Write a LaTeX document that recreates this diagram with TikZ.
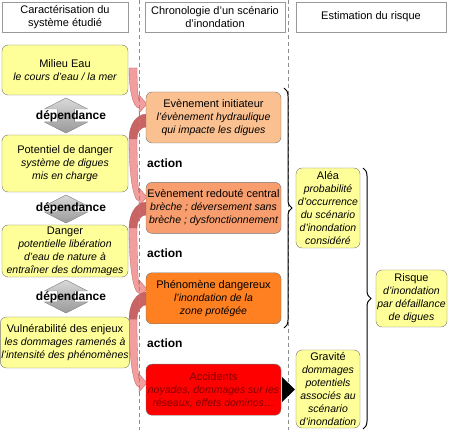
\documentclass[tikz,border=0pt]{standalone}
\usepackage{fontspec}
\setmainfont{Liberation Sans}
\usepackage{tikz}
\usetikzlibrary{positioning,decorations.pathreplacing,calc}

\definecolor{boxyellow}{RGB}{255,255,153}
\definecolor{initorange}{RGB}{250,192,144}
\definecolor{redoutorange}{RGB}{248,158,110}
\definecolor{phenorange}{RGB}{255,128,32}
\definecolor{accred}{RGB}{255,0,0}
\definecolor{acctext}{RGB}{128,0,0}
\definecolor{arrowback}{RGB}{200,100,100}
\definecolor{arrowfront}{RGB}{242,158,158}
\definecolor{arrowline}{RGB}{185,95,95}

\tikzstyle{header}=[draw=black!40, fill=white, align=center, inner sep=1pt, font=\fontsize{11}{13}\selectfont]
\tikzstyle{stage}=[draw=black!55, rounded corners=6pt, align=center, inner sep=1pt, font=\fontsize{11}{13}\selectfont]
\tikzstyle{divider}=[draw=black!45, dashed, dash pattern=on 4pt off 3pt]
\tikzset{
    yellowbox/.style={stage, fill=boxyellow},
    leftbox/.style={yellowbox, minimum width=126pt},
    midbox/.style={stage, minimum width=135pt, minimum height=51pt},
    bold label/.style={font=\bfseries\fontsize{12}{14}\selectfont, inner sep=0pt},
    back face/.style={fill=arrowback, draw=arrowline, line width=0.3pt},
    front face/.style={fill=arrowfront, draw=arrowline, line width=0.3pt},
    dep shape/.style={top color=black!15, bottom color=black!40, draw=black!40, line width=0.4pt},
    brace/.style={decorate, decoration={brace, amplitude=8pt}, line width=1pt}
}
% one italic line of a box
\newcommand{\detail}[1]{{\itshape\fontsize{10.5}{13}\selectfont #1}}
% front face of a curved arrow: #1 start height, #2 tip height
\newcommand{\frontarrow}[2]{%
  \filldraw[front face] (129,#1) .. controls (129,{#1+0.6*(#2-#1)}) and (133,{#2+4}) .. (139,{#2+4})
     -- (139,{#2+9}) -- (147,#2) -- (139,{#2-9}) -- (139,{#2-4})
     .. controls (138,{#2-4}) and (137,{#1+0.4*(#2-#1)}) .. (137,#1) -- cycle;}
% whole curved arrow: #1 top of the back face, #2 tip height
\newcommand{\flowarrow}[2]{%
  \pgfmathsetmacro\fm{#1+0.3*(#2-#1)}
  \pgfmathsetmacro\fa{#1+0.45*(\fm-#1)}
  \pgfmathsetmacro\fc{(#1+13)+0.45*(\fm-#1-13)}
  \filldraw[back face] (147,#1) .. controls (136,#1) and (129,\fa) .. (129,\fm)
     -- (137,\fm) .. controls (137,\fc) and (140,{#1+13}) .. (147,{#1+13}) -- cycle;
  \frontarrow{\fm}{#2}}
% grey double block arrow: #1 top, #2 bottom
\newcommand{\deparrow}[2]{%
  \filldraw[dep shape] (66,#1) -- (87.5,{#1+11}) -- (74.5,{#1+11}) -- (74.5,{#2-11}) -- (87.5,{#2-11})
     -- (66,#2) -- (44.5,{#2-11}) -- (57.5,{#2-11}) -- (57.5,{#1+11}) -- (44.5,{#1+11}) -- cycle;}

\begin{document}
\begin{tikzpicture}[x=1pt, y=-1pt]
  \useasboundingbox (0,0) rectangle (450,430);

  % curved arrows
  \frontarrow{68}{104}
  \flowarrow{114}{197}
  \flowarrow{202}{289}
  \flowarrow{292}{383}

  % column dividers
  \draw[divider] (139,0) -- (139,430);
  \draw[divider] (288,0) -- (288,430);

  % dependance arrows
  \deparrow{98}{133}
  \deparrow{195}{223}
  \deparrow{280}{313}

  % headers
  \node[header, minimum width=126pt, minimum height=30pt] (hcar) at (65,17) {Caractérisation du\\système étudié};
  \node[header, minimum width=140pt, minimum height=30pt] (hchr) at (215,17) {Chronologie d’un scénario\\d’inondation};
  \node[header, minimum width=150pt, minimum height=30pt] (hest) at (371,17) {Estimation du risque};

  % studied system
  \node[leftbox, minimum height=50pt] (eau) at (65,70) {Milieu Eau\\\detail{le cours d'eau / la mer}};
  \node[leftbox, minimum height=57pt] (potentiel) at (65,163.5) {Potentiel de danger\\\detail{système de digues}\\\detail{mis en charge}};
  \node[leftbox, minimum height=52pt] (danger) at (65,251) {Danger\\\detail{potentielle libération}\\\detail{d'eau de nature à}\\\detail{entraîner des dommages}};
  \node[leftbox, minimum height=51pt] (vuln) at (65,342.5) {Vulnérabilité des enjeux\\\detail{les dommages ramenés à}\\\detail{l'intensité des phénomènes}};
  \node[bold label] (dep1) at (71,116) {dépendance};
  \node[bold label] (dep2) at (71,208) {dépendance};
  \node[bold label] (dep3) at (71,297) {dépendance};

  % scenario
  \node[midbox, fill=initorange] (init) at (213.5,117.5) {Evènement initiateur\\\detail{l'évènement hydraulique}\\\detail{qui impacte les digues}};
  \node[midbox, fill=redoutorange, below=39pt of init] (redoute) {Evènement redouté central\\\detail{brèche ; déversement sans}\\\detail{brèche ; dysfonctionnement}};
  \node[midbox, fill=phenorange, below=39pt of redoute] (pheno) {Phénomène dangereux\\\detail{l'inondation de la}\\\detail{zone protégée}};
  \node[midbox, fill=accred, text=acctext, below=40pt of pheno] (accid) {Accidents\\\detail{noyades, dommages sur les}\\\detail{réseaux, effets dominos…}};
  \node[bold label, anchor=west] (act1) at (147,163) {action};
  \node[bold label, anchor=west] (act2) at (147,253) {action};
  \node[bold label, anchor=west] (act3) at (147,343) {action};

  % risk
  \node[yellowbox, minimum width=64pt, minimum height=80pt] (alea) at (328,208) {Aléa\\\detail{probabilité}\\\detail{d'occurrence}\\\detail{du scénario}\\\detail{d'inondation}\\\detail{considéré}};
  \node[yellowbox, minimum width=64pt, minimum height=78pt] (gravite) at (328,389) {Gravité\\\detail{dommages}\\\detail{potentiels}\\\detail{associés au}\\\detail{scénario}\\\detail{d'inondation}};
  \node[yellowbox, minimum width=71pt, minimum height=57pt] (risque) at (411.5,298.5) {Risque\\\detail{d'inondation}\\\detail{par défaillance}\\\detail{de digues}};

  \coordinate (b1top) at (284,88);
  \coordinate (b1bot) at (284,328);
  \coordinate (b2top) at (363,168);
  \coordinate (b2bot) at (363,429);
  \draw[brace] (b1top) -- (b1bot);
  \draw[brace] (b2top) -- (b2bot);
  \fill (282,377) -- (295,389.5) -- (282,402) -- cycle;
\end{tikzpicture}
\end{document}
